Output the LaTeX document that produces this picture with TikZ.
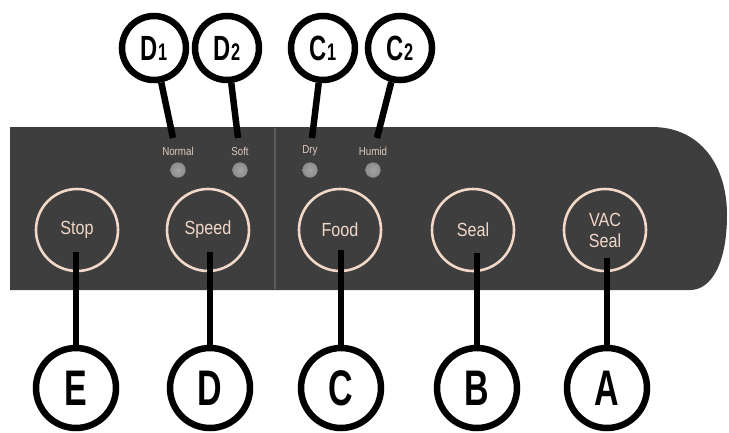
\documentclass[tikz,border=0pt]{standalone}
\usepackage{fontspec}
\setmainfont{Liberation Sans}
\newfontfamily\callfont{Liberation Sans Bold}[FakeStretch=0.68]
\newfontfamily\panelfont{Liberation Sans}[FakeStretch=0.85]
\definecolor{panel}{HTML}{3E3E3E}
\definecolor{peach}{HTML}{F2D8C8}
\definecolor{divider}{HTML}{5C5C5C}
\definecolor{led}{HTML}{8C8C8C}
\definecolor{ledhi}{HTML}{A4A4A4}
\tikzset{
  callout/.style={circle,draw=black,line width=6.5pt,fill=white,inner sep=0pt,minimum size=64pt,font=\callfont\fontsize{35}{35}\selectfont},
  bigcallout/.style={circle,draw=black,line width=6.5pt,fill=white,inner sep=0pt,minimum size=80pt,font=\callfont\fontsize{50}{50}\selectfont},
  pointer/.style={line width=6.5pt,black},
  button/.style={circle,draw=peach,line width=2.6pt,minimum size=82pt,inner sep=0pt,text=peach,font=\panelfont\fontsize{19}{24}\selectfont,align=center},
  ledlabel/.style={text=peach!85!gray,font=\panelfont\fontsize{11.5}{12}\selectfont,inner sep=0pt},
  ledlamp/.style={circle,fill=led,inner color=ledhi,outer color=led,minimum size=15pt,inner sep=0pt},
}
\begin{document}
\begin{tikzpicture}[x=1pt,y=-1pt]
\useasboundingbox (0,0) rectangle (729,432);
% panel
\fill[panel] (10,127) -- (652,127) .. controls (700,127) and (727,165) .. (727,215)
  .. controls (727,262) and (712,290) .. (690,290) -- (10,290) -- cycle;
\draw[divider,line width=1.4pt] (275,128) -- (275,289);
% LEDs and labels
\node[ledlabel] (lnormal) at (178,151) {Normal};
\node[ledlabel] (lsoft) at (240,151) {Soft};
\node[ledlabel] (ldry) at (310,151) {Dry};
\node[ledlabel] (lhumid) at (373,151) {Humid};
\node[ledlamp] (ledn) at (178,170) {};
\node[ledlamp] (leds) at (240,170) {};
\node[ledlamp] (ledd) at (310,170) {};
\node[ledlamp] (ledh) at (373,170) {};
% buttons
\node[button] (stop) at (77,230) {Stop};
\node[button] (speed) at (208,230) {Speed};
\node[button] (food) at (340,230) {Food};
\node[button] (seal) at (473,230) {Seal};
\node[button] (vac) at (605,230) {VAC\\[-3pt]Seal};
% top callouts
\node[callout] (D1) at (154,48) {D\fontsize{24}{24}\selectfont 1};
\node[callout] (D2) at (227,48) {D\fontsize{24}{24}\selectfont 2};
\node[callout] (C1) at (323,48) {C\fontsize{24}{24}\selectfont 1};
\node[callout] (C2) at (400,48) {C\fontsize{24}{24}\selectfont 2};
\coordinate (d1e) at (173,138);
\coordinate (d2e) at (238,138);
\coordinate (c1e) at (312,138);
\coordinate (c2e) at (377,138);
\draw[pointer] (D1) -- (d1e);
\draw[pointer] (D2) -- (d2e);
\draw[pointer] (C1) -- (c1e);
\draw[pointer] (C2) -- (c2e);
% bottom callouts
\node[bigcallout] (E) at (76,388) {E};
\node[bigcallout] (D) at (210,388) {D};
\node[bigcallout] (C) at (341,388) {C};
\node[bigcallout] (B) at (477,388) {B};
\node[bigcallout] (A) at (607,388) {A};
\coordinate (eS) at (76,252);
\coordinate (dS) at (210,252);
\coordinate (cS) at (341,250);
\coordinate (bS) at (477,253);
\coordinate (aS) at (607,258);
\draw[pointer] (eS) -- (E);
\draw[pointer] (dS) -- (D);
\draw[pointer] (cS) -- (C);
\draw[pointer] (bS) -- (B);
\draw[pointer] (aS) -- (A);
\end{tikzpicture}
\end{document}
